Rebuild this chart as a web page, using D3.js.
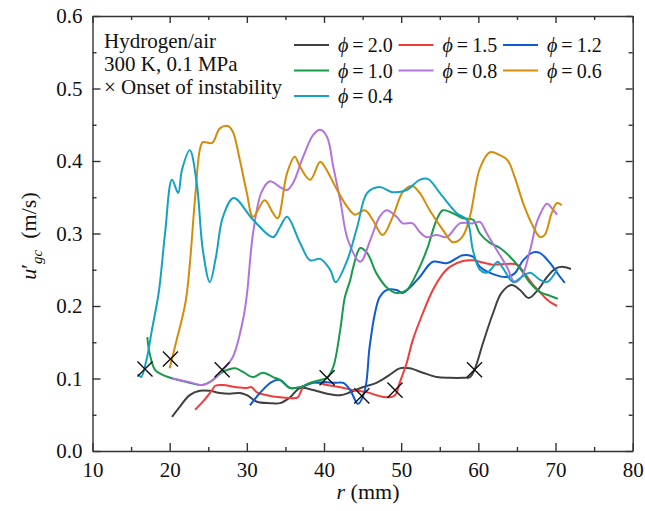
<!DOCTYPE html>
<html lang="en">
<head>
<meta charset="UTF-8">
<title>u'gc vs r</title>
<script src="https://cdn.jsdelivr.net/npm/d3@7"></script>
<style>
body { margin: 0; background: #fff; }
svg text { font-family: 'Liberation Serif', serif; }
</style>
</head>
<body>
<script>
// phi = 2.0
const r20 = [20.3,21.3,22.6,23.9,25.2,26.5,27.8,29.1,30,31.3,33,34.3,35.6,36.9,38.6,40.4,42.1,43.4,45,46.8,48.5,49.8,51.1,52.8,54.6,56.3,58,58.9,59.5,60.6,61.9,63,64.3,65.4,66.5,67.7,68.9,69.9,70.8,72]
const u20 = [0.047,0.061,0.077,0.083,0.083,0.080,0.079,0.080,0.077,0.068,0.066,0.066,0.074,0.087,0.084,0.079,0.077,0.081,0.088,0.094,0.105,0.114,0.114,0.108,0.102,0.101,0.101,0.102,0.112,0.149,0.190,0.218,0.229,0.222,0.211,0.222,0.240,0.251,0.254,0.251]
// phi = 1.5
const r15 = [23.3,24.3,25.5,25.9,26.9,28.7,30,30.6,31.3,32.6,34.3,35.6,36.6,37.3,38.6,40.4,42.1,43.8,45.6,46.8,48.1,49.2,49.8,50.7,51.5,52.8,54.1,55.3,56.3,58,59.3,60.2,61.9,63.7,65,66,66.9,68,69,70.2]
const u15 = [0.057,0.068,0.084,0.090,0.091,0.088,0.087,0.088,0.081,0.077,0.074,0.073,0.074,0.088,0.095,0.091,0.088,0.084,0.081,0.077,0.074,0.077,0.094,0.121,0.153,0.190,0.222,0.243,0.254,0.262,0.263,0.261,0.257,0.258,0.257,0.245,0.232,0.219,0.208,0.200]
// phi = 1.2
const r12 = [30.4,31.7,33.2,34.3,35.6,36.9,38.6,39.9,41.4,42.5,43.4,44.4,45.3,45.9,46.6,47.2,48.1,49.4,50.2,51.1,52.4,54.1,55.9,58,59.3,60.2,61.9,63.7,64.7,65.8,67.1,68,69.3,70.6,71.2]
const u12 = [0.063,0.080,0.095,0.098,0.087,0.088,0.094,0.095,0.094,0.094,0.084,0.065,0.084,0.143,0.190,0.212,0.222,0.222,0.218,0.225,0.240,0.261,0.259,0.270,0.268,0.254,0.244,0.240,0.245,0.263,0.274,0.273,0.259,0.240,0.232]
// phi = 1.0
const r10 = [17.1,17.4,18.1,19.1,20.4,22.2,24.2,25.2,26.9,28.5,29.5,30.8,32.1,33.4,34.3,35.6,36.9,38.2,39.5,40.4,41.2,42.1,42.7,43.4,43.8,44.7,45.6,46.8,48.1,49.4,50.7,52,53.3,54.6,55.4,56.7,58,59.3,60.2,61.5,62.8,64.1,65.4,66.7,68,69.3,70.3]
const u10 = [0.157,0.135,0.112,0.105,0.100,0.095,0.091,0.095,0.109,0.114,0.109,0.102,0.108,0.102,0.098,0.087,0.088,0.094,0.098,0.101,0.116,0.167,0.212,0.236,0.254,0.280,0.273,0.245,0.226,0.218,0.222,0.245,0.277,0.319,0.332,0.328,0.321,0.319,0.300,0.287,0.280,0.268,0.252,0.232,0.219,0.214,0.210]
// phi = 0.8
const r08 = [20.3,21.3,22.6,24.2,25.6,26.9,28.2,29.5,30.0,30.8,31.9,33,34.3,35.2,36,37.3,38.6,39.5,40.4,41.2,42.1,43.1,44.7,46,47.2,48.1,49.4,50.2,51.5,52.4,53.3,54.6,55.9,57.6,59.3,60.2,61.1,62.4,63.7,64.7,65.6,66.7,67.7,68.9,69.5,70.2]
const u08 = [0.100,0.098,0.095,0.091,0.098,0.112,0.130,0.181,0.215,0.300,0.357,0.372,0.364,0.360,0.370,0.406,0.436,0.443,0.433,0.392,0.346,0.291,0.261,0.291,0.323,0.332,0.323,0.314,0.314,0.302,0.295,0.298,0.295,0.314,0.314,0.316,0.300,0.277,0.254,0.233,0.240,0.277,0.319,0.341,0.335,0.326]
// phi = 0.6
const r06 = [20.0,20.9,22.1,23.3,23.9,24.3,25.5,26.5,27.6,28.2,29.1,30,30.8,32.3,33.4,34,35.2,36.2,36.9,38.2,39.5,40.1,41.7,43,44,45.3,46.3,47.6,48.9,50.2,51.4,52.4,53.7,55.4,56.7,57.9,58.9,60.2,61.5,62.8,63.8,64.7,65.8,66.9,68,68.6,69.5,70.2,70.8]
const u06 = [0.114,0.153,0.208,0.350,0.415,0.426,0.425,0.445,0.448,0.440,0.401,0.356,0.323,0.346,0.328,0.321,0.383,0.406,0.392,0.374,0.399,0.392,0.360,0.337,0.326,0.332,0.319,0.298,0.323,0.357,0.366,0.356,0.332,0.305,0.288,0.295,0.323,0.390,0.412,0.408,0.401,0.378,0.342,0.314,0.295,0.298,0.328,0.342,0.339]
// phi = 0.4
const r04 = [15.9,16.3,17.0,17.7,18.6,19.4,20.3,21.1,21.6,22.6,23.5,24.3,25.2,26.0,26.9,28.3,30.8,33.4,34.3,35.2,36.9,38.2,39.5,40.8,41.5,43,44.3,45.6,47.2,48.9,50.7,52.4,53.5,55,57.2,58.5,59.3,60.2,61.1,61.9,62.5,63.2,64.5,65.6,66.7,68,68.9,70.2]
const u04 = [0.106,0.102,0.126,0.167,0.220,0.300,0.374,0.356,0.388,0.415,0.370,0.277,0.233,0.268,0.323,0.349,0.319,0.295,0.309,0.323,0.287,0.263,0.265,0.250,0.233,0.263,0.309,0.356,0.364,0.357,0.360,0.374,0.375,0.356,0.328,0.319,0.277,0.250,0.246,0.254,0.261,0.252,0.233,0.240,0.246,0.236,0.233,0.250]

// onset of instability markers
const onsetR = [16.8,20.1,26.8,40.4,44.9,49.2,59.5]
const onsetU = [0.113,0.127,0.112,0.101,0.076,0.084,0.112]

const xTicks = [10,20,30,40,50,60,70,80]
const yTicks = [0,0.1,0.2,0.3,0.4,0.5,0.6]

const series = [
    {label: "2.0", r: r20, u: u20, color: "#404040"},
    {label: "1.5", r: r15, u: u15, color: "#f23b3b"},
    {label: "1.2", r: r12, u: u12, color: "#0f5bd3"},
    {label: "1.0", r: r10, u: u10, color: "#179a4a"},
    {label: "0.8", r: r08, u: u08, color: "#b273de"},
    {label: "0.6", r: r06, u: u06, color: "#d58c08"},
    {label: "0.4", r: r04, u: u04, color: "#13a2c6"}
]

const FONT = "'Liberation Serif', serif"
const W = 645, H = 511
const plotL = 92.5, plotR = 632.7, plotT = 16, plotB = 451

const svg = d3.select("body").append("svg")
    .attr("width", W).attr("height", H)
    .style("font-family", FONT)

const x = d3.scaleLinear().domain([10, 80]).range([plotL, plotR])
const y = d3.scaleLinear().domain([0, 0.6]).range([plotB, plotT])

const minorX = d3.range(15, 80, 10)
const minorY = d3.range(0.05, 0.6, 0.1)

// curves (drawn under the frame)
const line = d3.line()
    .x(d => x(d[0]))
    .y(d => y(d[1]))
    .curve(d3.curveCatmullRom.alpha(0.5))

const curves = svg.append("g")
series.forEach(s => {
    curves.append("path")
        .attr("fill", "none")
        .attr("stroke-width", 2)
        .attr("stroke", s.color)
        .attr("d", line(d3.zip(s.r, s.u)))
})

// X markers
const cross = d3.symbol().type(d3.symbolX).size(150)
svg.append("g").selectAll("path")
    .data(d3.zip(onsetR, onsetU))
    .join("path")
    .attr("d", cross)
    .attr("transform", d => `translate(${x(d[0])},${y(d[1])})`)
    .attr("fill", "none")
    .attr("stroke", "#111")
    .attr("stroke-width", 1.4)

// axes with inward ticks
function styleAxis(g) {
    g.attr("font-family", null).attr("font-size", 21)
    g.selectAll("path, line").attr("stroke", "#333").attr("stroke-width", 1.4)
    g.selectAll("text").attr("fill", "#111").style("font-family", FONT)
}

svg.append("g")
    .attr("transform", `translate(0,${plotB})`)
    .call(d3.axisBottom(x).tickValues(xTicks).tickSizeInner(-8).tickSizeOuter(0).tickPadding(11).tickFormat(d3.format("d")))
    .call(styleAxis)
svg.append("g")
    .attr("transform", `translate(0,${plotB})`)
    .call(d3.axisBottom(x).tickValues(minorX).tickSize(-4).tickFormat(""))
    .call(styleAxis)
    .select(".domain").remove()

svg.append("g")
    .attr("transform", `translate(${plotL},0)`)
    .call(d3.axisLeft(y).tickValues(yTicks).tickSizeInner(-8).tickSizeOuter(0).tickPadding(10).tickFormat(d3.format(".1f")))
    .call(styleAxis)
svg.append("g")
    .attr("transform", `translate(${plotL},0)`)
    .call(d3.axisLeft(y).tickValues(minorY).tickSize(-4).tickFormat(""))
    .call(styleAxis)
    .select(".domain").remove()

svg.append("g")
    .attr("transform", `translate(0,${plotT})`)
    .call(d3.axisTop(x).tickValues(xTicks).tickSizeInner(-7).tickSizeOuter(0).tickFormat(""))
    .call(styleAxis)
svg.append("g")
    .attr("transform", `translate(0,${plotT})`)
    .call(d3.axisTop(x).tickValues(minorX).tickSize(-4).tickFormat(""))
    .call(styleAxis)
    .select(".domain").remove()

svg.append("g")
    .attr("transform", `translate(${plotR},0)`)
    .call(d3.axisRight(y).tickValues(yTicks).tickSizeInner(-7).tickSizeOuter(0).tickFormat(""))
    .call(styleAxis)
svg.append("g")
    .attr("transform", `translate(${plotR},0)`)
    .call(d3.axisRight(y).tickValues(minorY).tickSize(-4).tickFormat(""))
    .call(styleAxis)
    .select(".domain").remove()

// axis titles
const xt = svg.append("text")
    .attr("x", 368).attr("y", 499)
    .attr("text-anchor", "middle")
    .attr("font-size", 22)
    .attr("fill", "#111")
xt.append("tspan").attr("font-style", "italic").text("r")
xt.append("tspan").text(" (mm)")

const yt = svg.append("text")
    .attr("transform", "translate(36,236) rotate(-90)")
    .attr("text-anchor", "middle")
    .attr("font-size", 22)
    .attr("fill", "#111")
yt.append("tspan").attr("font-style", "italic").text("u")
yt.append("tspan").text("\u2032")
yt.append("tspan").attr("font-style", "italic").attr("font-size", 15).attr("dy", 6).text("gc")
yt.append("tspan").attr("dy", -6).text("\u2002(m/s)")

// condition notes
const notes = ["Hydrogen/air", "300 K, 0.1 MPa", "\u00d7 Onset of instability"]
svg.append("g").selectAll("text")
    .data(notes)
    .join("text")
    .attr("x", 104)
    .attr("y", (d, i) => 48 + i * 23)
    .attr("font-size", 21)
    .attr("fill", "#111")
    .text(d => d)

// legend, three columns
const legend = svg.append("g")
series.forEach((s, i) => {
    const col = i % 3, row = Math.floor(i / 3)
    const lx = 294 + col * 104.5, ly = 45 + row * 25.5
    legend.append("line")
        .attr("x1", lx).attr("x2", lx + 35)
        .attr("y1", ly).attr("y2", ly)
        .attr("stroke", s.color).attr("stroke-width", 2.2)
    const t = legend.append("text")
        .attr("x", lx + 44).attr("y", ly + 7)
        .attr("font-size", 20).attr("fill", "#111")
    t.append("tspan").attr("font-style", "italic").text("\u03d5")
    t.append("tspan").text("\u2009=\u2009" + s.label)
})
</script>
</body>
</html>
